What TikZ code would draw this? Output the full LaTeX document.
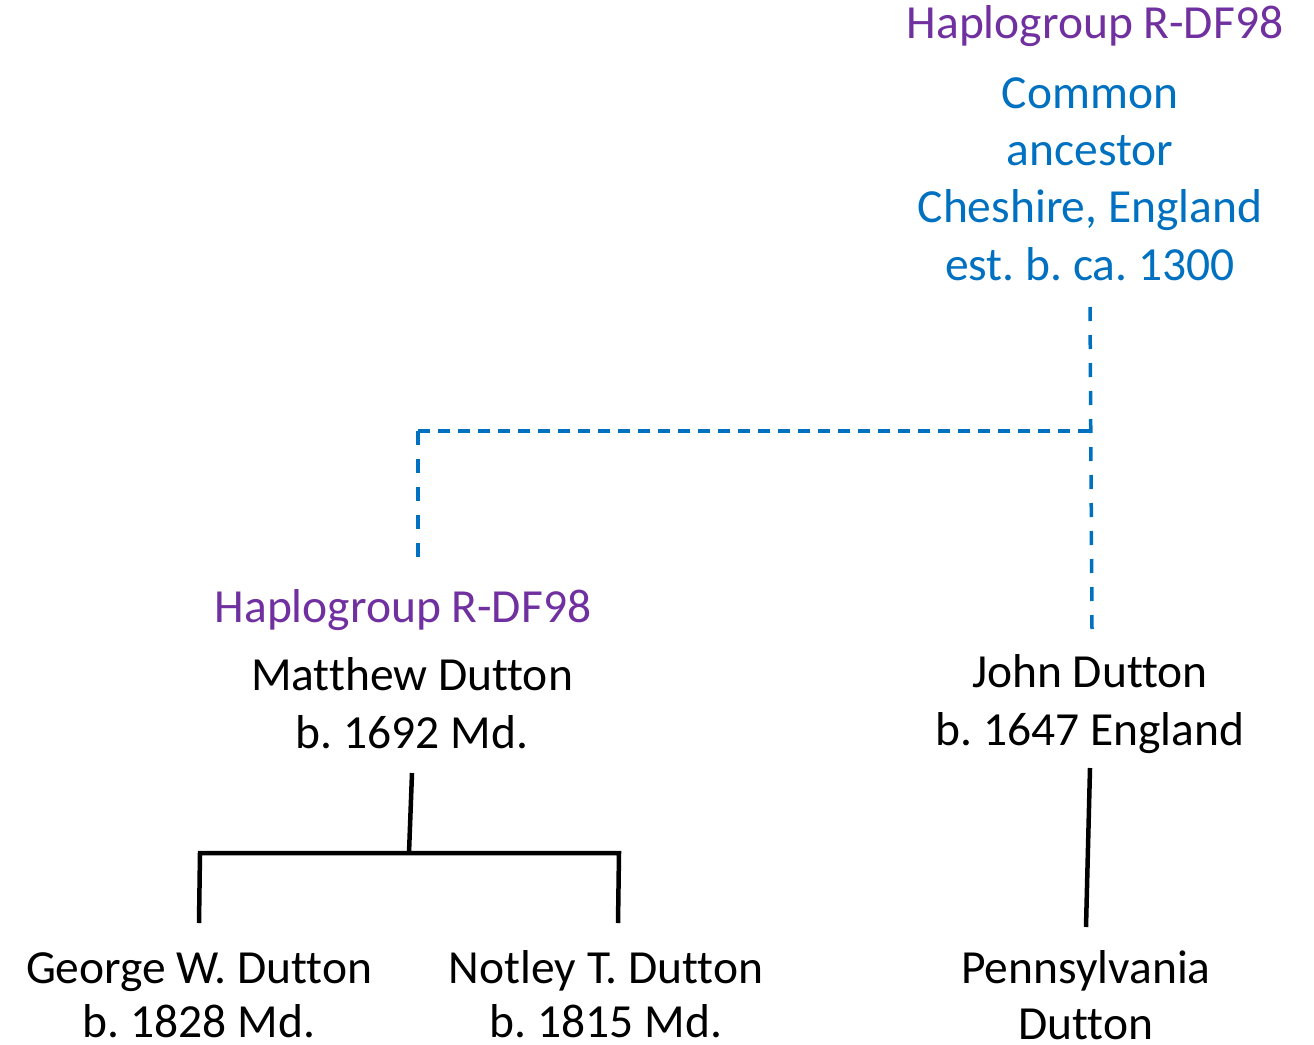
\documentclass[tikz,border=0pt]{standalone}
\usepackage{fontspec}
\setmainfont[Ligatures=NoCommon]{Carlito}
\frenchspacing
\definecolor{hapl}{HTML}{7030A0}
\definecolor{anc}{HTML}{0070C0}
\begin{document}
\begin{tikzpicture}[x=1pt,y=-1pt,
  lbl/.style={anchor=base,inner sep=0pt,font=\fontsize{47.5}{57}\selectfont},
  hap/.style={lbl,text=hapl},
  ancl/.style={lbl,text=anc},
  person/.style={lbl,text=black},
  link/.style={draw=black,line width=4.5pt},
  dlinkh/.style={draw=anc,line width=3.5pt,dash pattern=on 12pt off 8pt},
  dlinkv/.style={draw=anc,line width=3.5pt,dash pattern=on 14pt off 14pt}]
\useasboundingbox (0,0) rectangle (1314,1044);

% common ancestor
\node[hap]  (hapTop) at (1095,38)  {Haplogroup R-DF98};
\node[ancl] (ca1)    at (1090,108) {Common};
\node[ancl] (ca2)    at (1090,165) {ancestor};
\node[ancl] (ca3)    at (1090,222) {Cheshire, England};
\node[ancl] (ca4)    at (1090,280) {est. b. ca. 1300};

% second generation
\node[hap]    (hapLeft) at (403,622)  {Haplogroup R-DF98};
\node[person] (matt1)   at (412,690)  {Matthew Dutton};
\node[person] (matt2)   at (412,748)  {b. 1692 Md.};
\node[person] (john1)   at (1090,687) {John Dutton};
\node[person] (john2)   at (1090,745) {b. 1647 England};

% descendants
\node[person] (geo1)  at (199,983)  {George W. Dutton};
\node[person] (geo2)  at (199,1037) {b. 1828 Md.};
\node[person] (not1)  at (606,983)  {Notley T. Dutton};
\node[person] (not2)  at (606,1037) {b. 1815 Md.};
\node[person] (pen1)  at (1086,983) {Pennsylvania};
\node[person] (pen2)  at (1086,1039) {Dutton};

% connector end points
\coordinate (caBot)   at (1090,307);
\coordinate (caJoin)  at (1090,431);
\coordinate (johnTop) at (1092,630);
\coordinate (leftJoin) at (418,431);
\coordinate (mattTop) at (418,570);
\coordinate (mattBot) at (412,773);
\coordinate (mattMid) at (409,853);
\coordinate (geoCorner) at (200,853);
\coordinate (geoTop)  at (199,923);
\coordinate (notCorner) at (619,853);
\coordinate (notTop)  at (618,923);
\coordinate (johnBot) at (1090,768);
\coordinate (penTop)  at (1086,927);

% dashed link to the common ancestor
\draw[dlinkv] (caBot) -- (johnTop);
\draw[dlinkh] (caJoin) -- (leftJoin);
\draw[dlinkv] (leftJoin) -- (mattTop);

% solid family links
\draw[link] (mattBot) -- (mattMid);
\draw[link] (geoTop) -- (geoCorner) -- (notCorner) -- (notTop);
\draw[link] (johnBot) -- (penTop);
\end{tikzpicture}
\end{document}
